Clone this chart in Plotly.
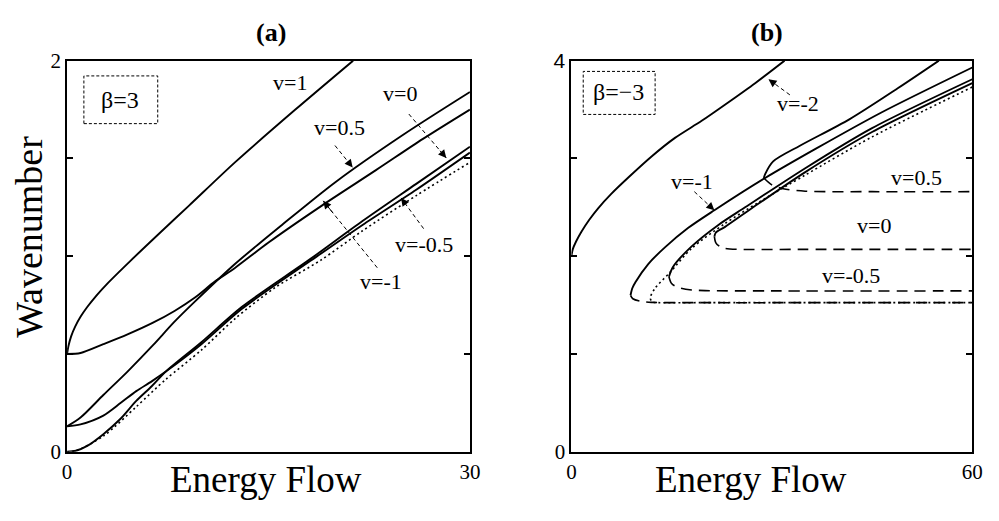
import plotly.graph_objects as go

SERIF = "Liberation Serif, Times New Roman, serif"

# ---------------- panel (a): beta = 3, energy flow 0..30 ----------------
a_v1_x = [0, 0.1, 0.3, 0.6, 1, 1.5, 2.2, 3, 4.7, 7, 9.1, 12.5, 17, 21.3]
a_v1_y = [0.5, 0.54, 0.59, 0.64, 0.69, 0.74, 0.8, 0.86, 0.975, 1.125, 1.26, 1.48, 1.75, 2.0]

a_vm1_x = [0, 1, 2.7, 4.5, 6.4, 8, 9.55, 11, 12.5, 15, 19, 23, 26.5, 30]
a_vm1_y = [0.5, 0.505, 0.55, 0.6, 0.66, 0.72, 0.79, 0.87, 0.94, 1.07, 1.26, 1.44, 1.6, 1.75]

a_v05_x = [0, 1, 2.7, 4.5, 6.4, 8, 9.55, 12.5, 16, 20, 25, 30]
a_v05_y = [0.13, 0.175, 0.29, 0.41, 0.545, 0.665, 0.77, 0.96, 1.16, 1.38, 1.62, 1.84]

a_vm05_x = [0, 1, 2.7, 4, 5.15, 6.3, 7.35, 10, 13, 18.1, 22, 26, 30]
a_vm05_y = [0.13, 0.14, 0.185, 0.25, 0.31, 0.36, 0.41, 0.55, 0.73, 0.975, 1.16, 1.34, 1.53]

a_v0_x = [0, 0.65, 1.5, 2.7, 4, 5.15, 6.3, 7.35, 10, 13, 18.1, 22, 26, 30]
a_v0_y = [0, 0.005, 0.03, 0.09, 0.17, 0.26, 0.335, 0.41, 0.56, 0.74, 0.985, 1.18, 1.37, 1.56]

a_dot_x = [0, 0.65, 2.7, 5.15, 7.35, 10, 12.5, 15.5, 18.9, 22, 26, 30]
a_dot_y = [0, 0.005, 0.08, 0.23, 0.37, 0.52, 0.68, 0.84, 0.98, 1.13, 1.31, 1.48]

# ---------------- panel (b): beta = -3, energy flow 0..60 ----------------
b_vm2_x = [0, 0.2, 0.7, 1.5, 2.65, 4, 6, 8.6, 12, 15.5, 19.5, 23.3, 27.5, 31.9]
b_vm2_y = [2.0, 2.07, 2.15, 2.25, 2.37, 2.49, 2.64, 2.81, 3.02, 3.21, 3.385, 3.565, 3.77, 4.0]

b_vm1_up_x = [60, 46.4, 36.6, 29, 21.4, 17.5, 14, 11.5, 9.58, 9.1, 8.85]
b_vm1_up_y = [3.93, 3.47, 3.1, 2.8, 2.47, 2.29, 2.09, 1.92, 1.734, 1.67, 1.6]
b_vm1_lo_x = [8.85, 9.2, 10.3, 12, 20, 40, 60]
b_vm1_lo_y = [1.6, 1.565, 1.54, 1.528, 1.525, 1.525, 1.525]

b_vm05_up_x = [60, 45, 35, 26, 22, 18, 15.2, 14.6]
b_vm05_up_y = [3.81, 3.31, 2.9, 2.5, 2.32, 2.1, 1.89, 1.79]
b_vm05_lo_x = [14.6, 15.0, 16, 18, 20, 30, 60]
b_vm05_lo_y = [1.79, 1.72, 1.68, 1.655, 1.648, 1.645, 1.645]

b_v0_up_x = [60, 45, 35, 27, 23, 21.6, 21.4]
b_v0_up_y = [3.77, 3.27, 2.86, 2.49, 2.3, 2.24, 2.2]
b_v0_lo_x = [21.4, 21.6, 22.2, 23, 25, 35, 60]
b_v0_lo_y = [2.2, 2.14, 2.1, 2.08, 2.07, 2.07, 2.07]

b_v05_up_x = [55, 48.9, 41.6, 34.2, 30.2, 29.0, 28.8]
b_v05_up_y = [4.0, 3.72, 3.4, 3.13, 2.97, 2.84, 2.8]
b_v05_lo_x = [28.8, 30, 31.7, 35, 45, 60]
b_v05_lo_y = [2.8, 2.73, 2.69, 2.665, 2.66, 2.66]

b_dot_x = [60, 45, 35, 28, 22.9, 18, 14.7, 12.5, 11.8, 12.2, 13, 20, 40, 60]
b_dot_y = [3.73, 3.22, 2.83, 2.55, 2.33, 2.08, 1.83, 1.67, 1.57, 1.53, 1.525, 1.525, 1.525, 1.525]

# curve labels: (text, x, y)
a_labels = [("v=1", 16.6, 1.89), ("v=0", 24.8, 1.83), ("v=0.5", 20.3, 1.66),
            ("v=-0.5", 26.6, 1.06), ("v=-1", 23.4, 0.87)]
b_labels = [("v=-2", 33.9, 3.56), ("v=-1", 18.0, 2.76), ("v=0.5", 51.7, 2.81),
            ("v=0", 45.3, 2.31), ("v=-0.5", 41.9, 1.80)]

# label pointers: (tail, head)
a_arrows = [((19.95, 1.566), (21.27, 1.454)), ((25.45, 1.727), (28.24, 1.502)),
            ((26.55, 1.141), (24.87, 1.298)), ((23.1, 0.941), (19.07, 1.283))]
b_arrows = [((32.7, 3.65), (29.5, 3.81)), ((18.4, 2.66), (21.4, 2.47))]

DASH = "11px,7px"
DOT = "2px,3px"

fig = go.Figure()


def curve(x, y, ax, dash="solid", width=1.9):
    fig.add_trace(go.Scatter(
        x=x, y=y, mode="lines",
        line=dict(color="black", width=width, dash=dash, shape="spline", smoothing=0.8),
        xaxis="x" if ax == 1 else "x2", yaxis="y" if ax == 1 else "y2",
        showlegend=False, hoverinfo="skip"))


# panel (a)
curve(a_dot_x, a_dot_y, 1, DOT, 1.6)
curve(a_v1_x, a_v1_y, 1)
curve(a_vm1_x, a_vm1_y, 1)
curve(a_v05_x, a_v05_y, 1)
curve(a_vm05_x, a_vm05_y, 1)
curve(a_v0_x, a_v0_y, 1)

# panel (b)
curve(b_vm2_x, b_vm2_y, 2)
curve(b_dot_x, b_dot_y, 2, DOT, 1.6)
curve(b_vm1_up_x, b_vm1_up_y, 2)
curve(b_vm1_lo_x, b_vm1_lo_y, 2, DASH, 1.6)
curve(b_vm05_up_x, b_vm05_up_y, 2)
curve(b_vm05_lo_x, b_vm05_lo_y, 2, DASH, 1.6)
curve(b_v0_up_x, b_v0_up_y, 2)
curve(b_v0_lo_x, b_v0_lo_y, 2, DASH, 1.6)
curve(b_v05_up_x, b_v05_up_y, 2)
curve(b_v05_lo_x, b_v05_lo_y, 2, DASH, 1.6)


def label(text, x, y, ax, size=22):
    fig.add_annotation(x=x, y=y, xref="x" if ax == 1 else "x2", yref="y" if ax == 1 else "y2",
                       xanchor="center", yanchor="middle",
                       text=text, showarrow=False, font=dict(family=SERIF, size=size, color="black"))


def pointer(tail, head, ax):
    xr = "x" if ax == 1 else "x2"
    yr = "y" if ax == 1 else "y2"
    fig.add_shape(type="line", x0=tail[0], y0=tail[1], x1=head[0], y1=head[1],
                  xref=xr, yref=yr, line=dict(color="black", width=1, dash="4px,3px"))
    bx = head[0] - (head[0] - tail[0]) * 0.2
    by = head[1] - (head[1] - tail[1]) * 0.2
    fig.add_annotation(x=head[0], y=head[1], ax=bx, ay=by, xref=xr, yref=yr, axref=xr, ayref=yr,
                       text="", showarrow=True, arrowhead=2, arrowsize=1.6, arrowwidth=1,
                       arrowcolor="black")


for t, x, y in a_labels:
    label(t, x, y, 1)
for t, x, y in b_labels:
    label(t, x, y, 2)
for tail, head in a_arrows:
    pointer(tail, head, 1)
for tail, head in b_arrows:
    pointer(tail, head, 2)

# parameter boxes
fig.add_shape(type="rect", x0=1.25, x1=6.75, y0=1.678, y1=1.922, xref="x", yref="y",
              line=dict(color="black", width=1, dash="3px,2px"))
label("β=3", 3.96, 1.80, 1, 24)
fig.add_shape(type="rect", x0=1.77, x1=12.53, y0=3.45, y1=3.89, xref="x2", yref="y2",
              line=dict(color="black", width=1, dash="3px,2px"))
label("β=−3", 7.1, 3.68, 2, 24)

# panel titles and axis titles
for txt, px in [("<b>(a)</b>", 0.270), ("<b>(b)</b>", 0.774)]:
    fig.add_annotation(x=px, y=1 - 22 / 521, xref="paper", yref="paper", text=txt,
                       xanchor="center", yanchor="middle", showarrow=False,
                       font=dict(family=SERIF, size=26, color="black"))
for px in [265 / 999, 757 / 999]:
    fig.add_annotation(x=px, y=1 - 490 / 521, xref="paper", yref="paper", text="Energy Flow",
                       xanchor="center", yanchor="middle", showarrow=False,
                       font=dict(family=SERIF, size=37, color="black"))
fig.add_annotation(x=24 / 999, y=1 - 236 / 521, xref="paper", yref="paper", text="Wavenumber",
                   xanchor="center", yanchor="middle", textangle=-90, showarrow=False,
                   font=dict(family=SERIF, size=38, color="black"))

common_axis = dict(showline=True, linecolor="black", linewidth=2, showgrid=False,
                   zeroline=False, tickfont=dict(family=SERIF, size=21, color="black"))

fig.update_layout(
    width=999, height=521,
    margin=dict(l=0, r=0, t=0, b=0),
    paper_bgcolor="white", plot_bgcolor="white",
    xaxis=dict(domain=[0.0631, 0.4725], range=[0, 30], tickvals=[0, 30], ticktext=["0", "30"],
               ticks="", mirror=True, anchor="y", **common_axis),
    yaxis=dict(domain=[0.1152, 0.9021], range=[0, 2], tickvals=[0, 0.5, 1, 1.5, 2],
               ticktext=["0", "", "", "", "2"], ticks="inside", ticklen=6, tickwidth=1.5,
               tickcolor="black", mirror="ticks", anchor="x", **common_axis),
    xaxis2=dict(domain=[0.5756, 0.983], range=[0, 60], tickvals=[0, 60], ticktext=["0", "60"],
                ticks="", mirror=True, anchor="y2", **common_axis),
    yaxis2=dict(domain=[0.1152, 0.9021], range=[0, 4], tickvals=[0, 1, 2, 3, 4],
                ticktext=["0", "", "", "", "<span style='font-family:Liberation Sans'>4</span>"],
                ticks="inside", ticklen=6, tickwidth=1.5, tickcolor="black", mirror="ticks",
                anchor="x2", **common_axis),
)

fig.write_html("out.html")
